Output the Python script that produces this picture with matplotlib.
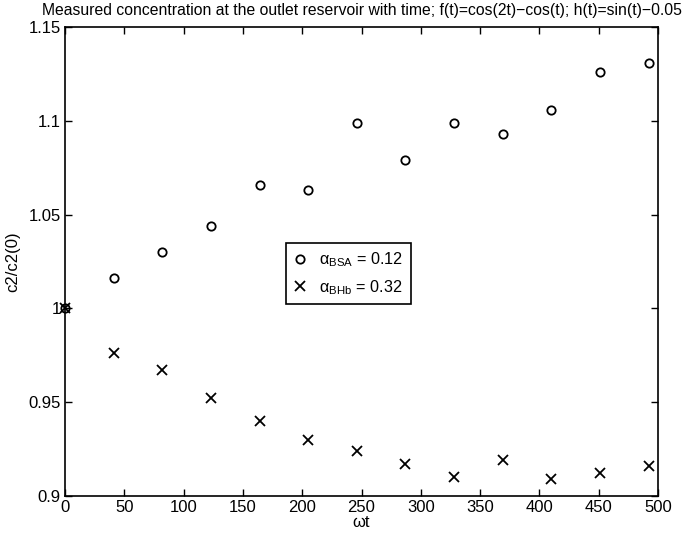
import matplotlib
matplotlib.use("Agg")
import matplotlib.pyplot as plt

plt.rcParams['font.family'] = ['Liberation Sans', 'DejaVu Sans']
plt.rcParams['mathtext.fontset'] = 'custom'
plt.rcParams['mathtext.rm'] = 'Liberation Sans'
plt.rcParams['mathtext.it'] = 'Liberation Sans:italic'

wt = [0, 41, 82, 123, 164, 205, 246, 287, 328, 369, 410, 451, 492]
bsa = [1.000, 1.016, 1.030, 1.044, 1.066, 1.063, 1.099, 1.079, 1.099, 1.093, 1.106, 1.126, 1.131]
bhb = [1.000, 0.976, 0.967, 0.952, 0.940, 0.930, 0.924, 0.917, 0.910, 0.919, 0.909, 0.912, 0.916]

title = "Measured concentration at the outlet reservoir with time; f(t)=cos(2t)\u2212cos(t); h(t)=sin(t)\u22120.05"
xlabel = "\u03c9t"
ylabel = "c2/c2(0)"
labels = ["\u03b1$_{\\mathrm{BSA}}$ = 0.12", "\u03b1$_{\\mathrm{BHb}}$ = 0.32"]
xticks = [0, 50, 100, 150, 200, 250, 300, 350, 400, 450, 500]
yticks = [0.9, 0.95, 1.0, 1.05, 1.1, 1.15]
yticklabels = ["0.9", "0.95", "1", "1.05", "1.1", "1.15"]

W, H = 688, 533
fig = plt.figure(figsize=(W / 100, H / 100), dpi=100)
left, right, top, bottom = 65, 658, 27, 496
ax = fig.add_axes([left / W, 1 - bottom / H, (right - left) / W, (bottom - top) / H])

ax.plot(wt, bsa, linestyle='none', marker='o', markersize=6, markerfacecolor='none',
        markeredgecolor='black', markeredgewidth=1.3, clip_on=False, label=labels[0])
ax.plot(wt, bhb, linestyle='none', marker='x', markersize=7, color='black',
        markeredgewidth=1.3, clip_on=False, label=labels[1])

ax.set_xlim(0, 500)
ax.set_ylim(0.9, 1.15)
ax.set_xticks(xticks)
ax.set_yticks(yticks)
ax.set_yticklabels(yticklabels)
ax.tick_params(direction='in', top=True, right=True, length=5, width=1, labelsize=12, pad=3)
for s in ax.spines.values():
    s.set_linewidth(1.2)
    s.set_color('black')

ax.set_title(title, fontsize=11.3, pad=9)
ax.set_xlabel(xlabel, fontsize=12, labelpad=0)
ax.set_ylabel(ylabel, fontsize=12, labelpad=6)

leg = ax.legend(loc='upper left', bbox_to_anchor=((286 - left) / (right - left), (bottom - 243) / (bottom - top)),
                fontsize=11.7, frameon=True, fancybox=False, edgecolor='black', framealpha=1,
                borderpad=0.45, handlelength=0.8, handletextpad=0.8, labelspacing=0.55, borderaxespad=0)
leg.get_frame().set_linewidth(1.2)

fig.savefig("out.png", dpi=100)
